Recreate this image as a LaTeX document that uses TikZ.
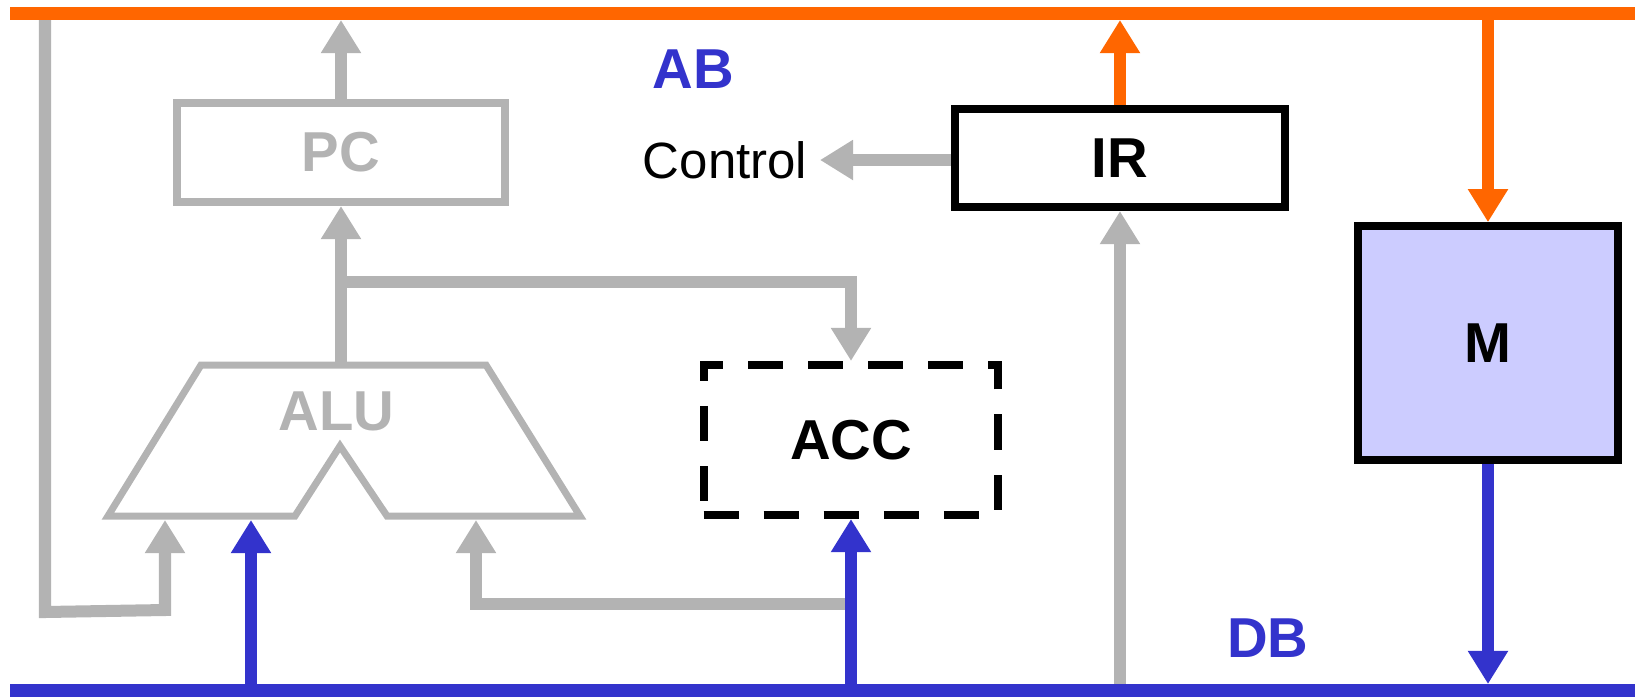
\documentclass[tikz,border=0pt]{standalone}
\usepackage{fontspec}
\setmainfont{Liberation Sans}
\usepackage{xcolor}
\usetikzlibrary{arrows.meta}

\definecolor{abOrange}{HTML}{FF6600}
\definecolor{dbBlue}{HTML}{3333CC}
\definecolor{regGray}{HTML}{B3B3B3}
\definecolor{memFill}{HTML}{CCCCFF}

\begin{document}
\begin{tikzpicture}[x=0.01cm, y=-0.01cm,
    >={Triangle[width=0.38cm, length=0.33cm]},
    gray wire/.style={draw=regGray, line width=0.12cm},
    ab wire/.style={draw=abOrange, line width=0.12cm},
    db wire/.style={draw=dbBlue, line width=0.12cm},
    regbox/.style={line width=0.08cm, inner sep=0pt,
      font=\fontsize{16}{19}\selectfont\bfseries},
    bus label/.style={text=dbBlue, font=\fontsize{16}{19}\selectfont\bfseries}]
  % Frame in pixels of the original drawing (y runs downwards)
  \useasboundingbox (0,0) rectangle (1635,696);

  % Edges of the two buses, where the arrows land
  \coordinate (abedge) at (0,20);
  \coordinate (dbedge) at (0,684);

  % Registers and memory
  \node[regbox, draw=regGray, text=regGray, minimum width=3.285cm, minimum height=0.99cm] (pc) at (341,152.5) {PC};
  \node[regbox, draw=black, minimum width=3.30cm, minimum height=0.98cm] (ir) at (1120,158) {IR};
  \node[regbox, draw=black, fill=memFill, minimum width=2.60cm, minimum height=2.335cm] (mem) at (1488,343) {M};
  \node[regbox, draw=black, dash pattern=on 0.35cm off 0.25cm, minimum width=2.945cm, minimum height=1.50cm] (acc) at (851,440) {ACC};

  % ALU outline
  \draw[gray wire, line width=0.07cm] (201,365) -- (486,365) -- (580,516) -- (387,516)
    -- (340,446) -- (295,516) -- (108,516) -- cycle;
  \node[text=regGray, font=\fontsize{16}{19}\selectfont\bfseries] (alutext) at (336.5,411) {ALU};
  \coordinate (alutop) at (341,365);
  \coordinate (aluinA) at (165,520);
  \coordinate (aluinB) at (251,520);
  \coordinate (aluinC) at (476,520);
  \coordinate (split) at (341,282);
  \coordinate (loopstart) at (45,20);

  % Labels
  \node[bus label] (ablabel) at (693.5,69) {AB};
  \node[bus label] (dblabel) at (1268,638.5) {DB};
  \node[anchor=east, inner sep=0.12cm, font=\fontsize{14.5}{17}\selectfont] (control) at (820,160) {Control};

  % Gray internal paths
  \draw[gray wire, ->] (pc.north) -- (pc.north |- abedge);
  \draw[gray wire, ->] (alutop) -- (pc.south);
  \draw[gray wire, ->] (split) -| (acc.north);
  \draw[gray wire, ->] (loopstart) -- (45,612) -- (165,610) -- (aluinA);
  \draw[gray wire, ->] (acc.south |- 0,603.5) -| (aluinC);
  \draw[gray wire, ->] (ir.west |- control.east) -- (control.east);
  \draw[gray wire, ->] (ir.south |- dbedge) -- (ir.south);

  % Address bus side
  \draw[ab wire, ->] (ir.north) -- (ir.north |- abedge);
  \draw[ab wire, ->] (mem.north |- abedge) -- (mem.north);

  % Data bus side
  \draw[db wire, ->] (aluinB |- dbedge) -- (aluinB);
  \draw[db wire, ->] (acc.south |- dbedge) -- (acc.south);
  \draw[db wire, ->] (mem.south) -- (mem.south |- dbedge);

  % The buses
  \draw[ab wire, line width=0.13cm] (10,13.5) -- (1635,13.5);
  \draw[db wire, line width=0.13cm] (10,690) -- (1635,690);
\end{tikzpicture}
\end{document}
